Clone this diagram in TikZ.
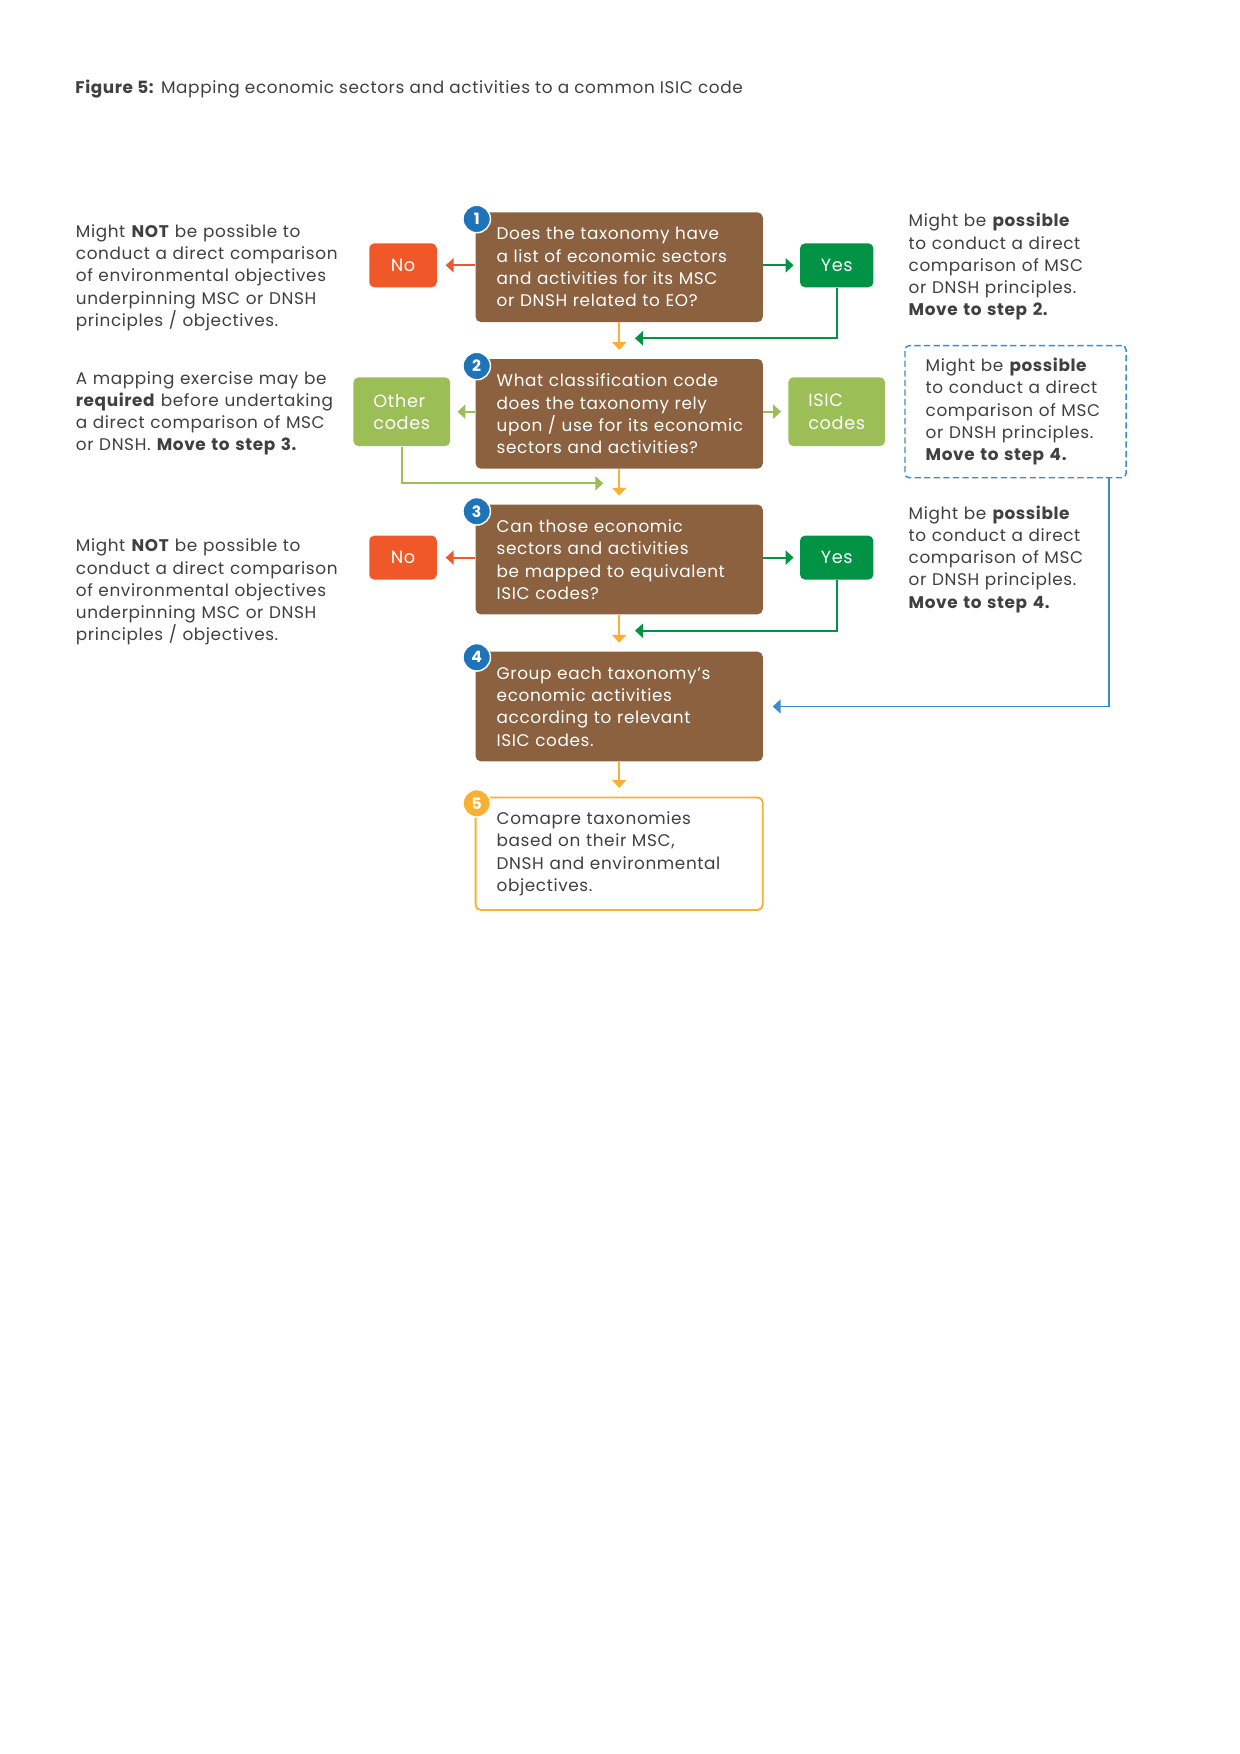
\documentclass[tikz,border=0pt]{standalone}
\usepackage{fontspec}
\setmainfont{Poppins}[LetterSpace=3.6]
\usetikzlibrary{arrows.meta,calc}
\definecolor{brownbox}{RGB}{139,97,64}
\definecolor{noorange}{RGB}{240,88,42}
\definecolor{yesgreen}{RGB}{0,146,69}
\definecolor{lightgreen}{RGB}{155,191,86}
\definecolor{badgeblue}{RGB}{31,115,185}
\definecolor{dashblue}{RGB}{60,140,205}
\definecolor{amber}{RGB}{248,177,50}
\definecolor{txtgrey}{RGB}{64,64,64}
\begin{document}
\begin{tikzpicture}[x=0.48pt,y=-0.48pt,
  bodyfont/.style={font=\fontsize{8.1}{10.7}\selectfont},
  para/.style={anchor=base west,inner sep=0pt,text width=150pt,align=left,text=txtgrey,bodyfont},
  stepbox/.style={fill=brownbox,draw=none,rounded corners=2.4pt,minimum width=137.8pt,minimum height=52.6pt,inner xsep=5pt,text width=127.8pt,align=left,text=white,bodyfont,execute at begin node={\leftskip=5.1pt\relax\hyphenpenalty=10000\relax}},
  laststep/.style={stepbox,fill=white,draw=amber,line width=0.9pt,text=txtgrey,minimum height=54pt},
  badge/.style={circle,fill=badgeblue,draw=white,line width=0.7pt,minimum size=13.2pt,inner sep=0pt,text=white,font=\fontsize{7.5}{8}\selectfont\bfseries},
  nobox/.style={fill=noorange,rounded corners=2.4pt,minimum width=32.4pt,minimum height=21.1pt,inner sep=0pt,text=white,font=\fontsize{8.5}{10}\selectfont},
  yesbox/.style={nobox,fill=yesgreen,minimum width=35.2pt},
  codebox/.style={fill=lightgreen,rounded corners=2.4pt,minimum width=46.4pt,minimum height=33pt,inner sep=0pt,align=left,text=white,font=\fontsize{8.5}{10.7}\selectfont},
  dashbox/.style={draw=dashblue,dashed,dash pattern=on 3pt off 1.6pt,line width=0.7pt,rounded corners=2pt,minimum width=106.1pt,minimum height=63.4pt,inner xsep=9.9pt,text width=86.2pt,align=left,text=txtgrey,bodyfont},
  tip/.style={-{Triangle[length=3.8pt,width=6.7pt]}},
  downarrow/.style={draw=amber,line width=0.95pt,tip,shorten >=4.1pt},
  noarrow/.style={draw=noorange,line width=0.95pt,tip,shorten >=4.1pt},
  yesarrow/.style={draw=yesgreen,line width=0.95pt,tip,shorten >=2.9pt},
  codearrow/.style={draw=lightgreen,line width=0.95pt,tip,shorten >=3.3pt},
  yesback/.style={draw=yesgreen,line width=0.95pt,tip},
  codeback/.style={draw=lightgreen,line width=0.95pt,tip},
  blueline/.style={draw=dashblue,line width=0.75pt,tip,shorten >=4.6pt}
]
\useasboundingbox (0,0) rectangle (1240,1754);
\fill[white] (0,0) rectangle (1240,1754);

% title
\node[anchor=base west,inner sep=0pt,text=txtgrey,font=\fontsize{8.1}{10}\selectfont] (title) at (75,93)
  {\textbf{Figure 5:} Mapping economic sectors and activities to a common ISIC code};

% step boxes
\node[stepbox] (b1) at (619.2,267.2) {Does the taxonomy have\\a list of economic sectors\\and activities for its MSC\\or DNSH related to EO?};
\node[stepbox] (b2) at (619.2,413.8) {What classification code\\does the taxonomy rely\\upon / use for its economic\\sectors and activities?};
\node[stepbox] (b3) at (619.2,559.5) {Can those economic\\sectors and activities\\be mapped to equivalent\\ISIC codes?};
\node[stepbox] (b4) at (619.2,706.5) {Group each taxonomy’s\\economic activities\\according to relevant\\ISIC codes.};
\node[laststep] (b5) at (619.2,853.7) {Comapre taxonomies\\based on their MSC,\\DNSH and environmental\\objectives.};

% badges
\node[badge] (n1) at (476.7,219) {1};
\node[badge] (n2) at (476.7,366) {2};
\node[badge] (n3) at (476.7,511.3) {3};
\node[badge] (n4) at (476.7,657.3) {4};
\node[badge,fill=amber] (n5) at (476.7,803.3) {5};

% side boxes
\node[nobox] (no1) at (403,265.3) {No};
\node[yesbox] (yes1) at (836.7,265.3) {Yes};
\node[codebox] (other) at (401.8,411.7) {Other\\codes};
\node[codebox] (isic) at (836.7,411.7) {ISIC\\codes};
\node[nobox] (no3) at (403,557.6) {No};
\node[yesbox] (yes3) at (836.7,557.6) {Yes};
\node[dashbox] (dash) at (1015.5,411.7) {Might be \textbf{possible}\\to conduct a direct\\comparison of MSC\\or DNSH principles.\\\textbf{Move to step 4.}};

% side texts
\node[para] (lt1) at (75.5,237.3) {Might \textbf{NOT} be possible to\\conduct a direct comparison\\of environmental objectives\\underpinning MSC or DNSH\\principles / objectives.};
\node[para] (lt2) at (75.5,384) {A mapping exercise may be\\\textbf{required} before undertaking\\a direct comparison of MSC\\or DNSH. \textbf{Move to step 3.}};
\node[para] (lt3) at (75.5,551.7) {Might \textbf{NOT} be possible to\\conduct a direct comparison\\of environmental objectives\\underpinning MSC or DNSH\\principles / objectives.};
\node[para] (rt1) at (908.3,226.7) {Might be \textbf{possible}\\to conduct a direct\\comparison of MSC\\or DNSH principles.\\\textbf{Move to step 2.}};
\node[para] (rt3) at (908.3,519) {Might be \textbf{possible}\\to conduct a direct\\comparison of MSC\\or DNSH principles.\\\textbf{Move to step 4.}};

% helper coordinates
\coordinate (yestip1) at (635,338.3);
\coordinate (yestip3) at (635,630.7);
\coordinate (othertip) at (603.3,483.3);
\coordinate (bluecol) at (1109,704.3);

% connectors
\draw[downarrow] (b1.south) -- (b2.north);
\draw[downarrow] (b2.south) -- (b3.north);
\draw[downarrow] (b3.south) -- (b4.north);
\draw[downarrow] (b4.south) -- (b5.north);
\draw[noarrow] (b1.west |- no1.east) -- (no1.east);
\draw[noarrow] (b3.west |- no3.east) -- (no3.east);
\draw[yesarrow] (b1.east |- yes1.west) -- (yes1.west);
\draw[yesarrow] (b3.east |- yes3.west) -- (yes3.west);
\draw[codearrow] (b2.west |- other.east) -- (other.east);
\draw[codearrow] (b2.east |- isic.west) -- (isic.west);
\draw[yesback] (yes1.south) |- (yestip1);
\draw[yesback] (yes3.south) |- (yestip3);
\draw[codeback] (other.south) |- (othertip);
\draw[blueline] (dash.south -| bluecol) |- (b4.east);
\end{tikzpicture}
\end{document}
